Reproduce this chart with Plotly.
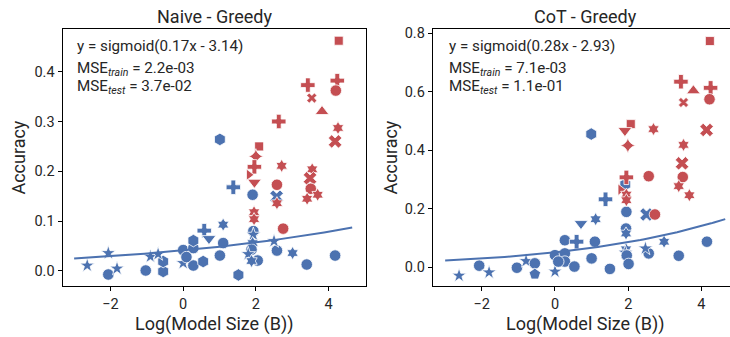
import numpy as np
import plotly.graph_objects as go

# ---------------- data ----------------
# Naive - Greedy (left)
naive_train_x = [-2.64, -2.06, -1.82, -2.06, -1.03, -0.55, -0.55, -0.90, -0.69, 0.00, 0.28, 0.28, 0.00, 0.28, 0.09,
                 0.55, 0.58, 0.71, 1.01, 1.10, 1.10, 1.01, 1.38, 1.52, 1.91, 1.93, 1.93, 1.91, 1.88, 1.79, 2.05, 1.88,
                 2.58, 2.50, 3.01, 3.40, 4.18, 2.57]
naive_train_y = [0.011, -0.007, 0.005, 0.036, 0.001, -0.001, 0.019, 0.029, 0.034, 0.042, 0.046, 0.061, 0.016, 0.011,
                 0.028, 0.019, 0.081, 0.065, 0.031, 0.056, 0.093, 0.264, 0.168, -0.008, 0.153, 0.080, 0.073, 0.056,
                 0.043, 0.034, 0.021, 0.020, 0.041, 0.060, 0.036, 0.013, 0.031, 0.149]
naive_train_fam = ['*', 'o', '*', '*', 'o', 'h', 'h', '*', '*', 'o', 'o', 'h', '*', 'o', 'o',
                   'h', 'P', 'v', 'o', 'o', '8', 'h', 'P', 'h', 'o', 'o', '*', '8', 'o', '*', 'o', '8',
                   'o', '*', '8', 'o', 'o', 'X']

naive_test_x = [4.28, 3.43, 4.24, 4.20, 3.54, 3.82, 2.63, 4.26, 4.18, 2.09, 2.00, 1.96, 2.71, 1.81, 1.96, 2.58,
                3.55, 3.49, 3.51, 3.70, 3.41, 2.58, 1.95, 1.95, 2.75]
naive_test_y = [0.462, 0.373, 0.382, 0.362, 0.347, 0.320, 0.300, 0.287, 0.260, 0.250, 0.230, 0.209, 0.211, 0.193,
                0.178, 0.173, 0.204, 0.186, 0.165, 0.153, 0.145, 0.136, 0.118, 0.104, 0.085]
naive_test_fam = ['s', 'P', 'P', 'o', 'x', '^', 'P', '8', 'X', 's', 'd', 'P', '8', '>', 'v', 'o',
                  '8', 'X', 'o', '8', '8', '8', '8', '8', 'o']

# CoT - Greedy (right)
cot_train_x = [-2.62, -2.07, -1.80, -1.04, -0.79, -0.55, -0.55, 0.00, 0.27, 0.27, 0.00, 0.27, 0.09, 0.53, 0.59,
               0.71, 1.00, 1.09, 1.11, 0.99, 1.38, 1.50, 1.95, 1.92, 1.94, 1.94, 1.94, 1.92, 1.96, 2.01, 2.56,
               2.47, 2.98, 3.38, 4.15, 2.50]
cot_train_y = [-0.029, 0.005, -0.018, -0.002, 0.021, 0.013, -0.024, 0.041, 0.047, 0.092, -0.015, 0.019, 0.019,
               0.002, 0.087, 0.149, 0.030, 0.087, 0.164, 0.455, 0.232, -0.006, 0.189, 0.283, 0.132, 0.115, 0.061,
               0.050, 0.040, 0.011, 0.047, 0.064, 0.087, 0.039, 0.087, 0.180]
cot_train_fam = ['*', 'o', '*', 'o', '*', 'o', 'p', 'o', 'o', 'o', '*', 'o', 'o', 'o', 'P',
                 'v', 'o', 'o', '8', 'h', 'P', 'o', 'o', 'h', 'o', '8', '8', '*', 'o', 'o', 'o',
                 '*', '8', 'o', 'o', 'X']

cot_test_x = [4.23, 3.44, 3.78, 4.25, 4.22, 3.51, 4.14, 2.07, 1.91, 2.69, 1.99, 3.51, 3.47, 1.95, 2.56, 3.49,
              3.38, 3.67, 1.79, 1.95, 1.95, 2.73]
cot_test_y = [0.773, 0.634, 0.603, 0.613, 0.574, 0.563, 0.469, 0.489, 0.467, 0.472, 0.416, 0.418, 0.355, 0.307,
              0.311, 0.308, 0.277, 0.246, 0.265, 0.248, 0.229, 0.180]
cot_test_fam = ['s', 'P', '^', 'P', 'o', 'x', 'X', 's', 'v', '8', 'd', '8', 'X', 'P', 'o', 'o',
                '8', '8', '>', '8', '8', 'o']

# fitted sigmoid coefficients (a, b): y = sigmoid(a x - b)
naive_fit = (0.17, 3.14)
cot_fit = (0.28, 2.93)
fit_x_range = (-3.0, 4.65)

titles = ["Naive - Greedy", "CoT - Greedy"]
naive_text = ["y = sigmoid(0.17x - 3.14)", "2.2e-03", "3.7e-02"]
cot_text = ["y = sigmoid(0.28x - 2.93)", "7.1e-03", "1.1e-01"]
x_ticks = [-2, 0, 2, 4]
naive_y_ticks = [0.0, 0.1, 0.2, 0.3, 0.4]
cot_y_ticks = [0.0, 0.2, 0.4, 0.6, 0.8]

# ---------------- styling ----------------
W, H = 730, 337
BLUE = '#4C72B0'
RED = '#C44E52'
TXT = '#262626'
FONT = 'Roboto'
SYM = {'o': ('circle', 11.5), 'h': ('hexagon', 12.5), '*': ('star', 11), 'P': ('cross', 12),
       'X': ('x', 12), 'x': ('x', 9), '^': ('triangle-up', 12), 'v': ('triangle-down', 12),
       '>': ('triangle-right', 10), 's': ('square', 9), 'd': ('star-diamond', 11),
       'p': ('pentagon', 12), '8': ('hexagram', 10)}


def px(x):
    return x / W


def py(y):
    return 1 - y / H


def sigmoid(z):
    return 1 / (1 + np.exp(-z))


fig = go.Figure()


def add_points(xs, ys, fams, color, xa, ya):
    fig.add_trace(go.Scatter(
        x=xs, y=ys, mode='markers', xaxis=xa, yaxis=ya, showlegend=False,
        marker=dict(color=color, opacity=1, symbol=[SYM[f][0] for f in fams],
                    size=[SYM[f][1] for f in fams], line=dict(color='white', width=0.8))))


def add_fit(coef, xa, ya):
    xs = np.linspace(fit_x_range[0], fit_x_range[1], 100)
    fig.add_trace(go.Scatter(x=xs, y=sigmoid(coef[0] * xs - coef[1]), mode='lines', xaxis=xa, yaxis=ya,
                             showlegend=False, line=dict(color=BLUE, width=2)))


add_points(naive_train_x, naive_train_y, naive_train_fam, BLUE, 'x', 'y')
add_points(naive_test_x, naive_test_y, naive_test_fam, RED, 'x', 'y')
add_fit(naive_fit, 'x', 'y')
add_points(cot_train_x, cot_train_y, cot_train_fam, BLUE, 'x2', 'y2')
add_points(cot_test_x, cot_test_y, cot_test_fam, RED, 'x2', 'y2')
add_fit(cot_fit, 'x2', 'y2')

top, bottom = 26, 286
L1, R1 = 62.5, 366
L2 = 432.7
ydom = [py(bottom), py(top)]

axis_common = dict(showgrid=False, zeroline=False, showline=True, linecolor='black', linewidth=1,
                   ticks='outside', ticklen=4, tickwidth=1, tickcolor='black',
                   tickfont=dict(family=FONT, size=14.5, color=TXT))

fig.update_layout(
    width=W, height=H, margin=dict(l=0, r=0, t=0, b=0),
    paper_bgcolor='white', plot_bgcolor='white',
    font=dict(family=FONT, color=TXT),
    xaxis=dict(domain=[px(L1), px(R1)], range=[-3.32, 5.03], tickvals=x_ticks, mirror=True,
               anchor='y', **axis_common),
    yaxis=dict(domain=ydom, range=[-0.031, 0.486], tickvals=naive_y_ticks, tickformat='.1f',
               mirror=True, anchor='x', **axis_common),
    xaxis2=dict(domain=[px(L2), 1.0], range=[-3.34, 4.78], tickvals=x_ticks, mirror=True,
                anchor='y2', **axis_common),
    yaxis2=dict(domain=ydom, range=[-0.066, 0.815], tickvals=cot_y_ticks, tickformat='.1f',
                mirror=False, anchor='x2', **axis_common),
)

ann = []


def text(x, y, s, size, xanchor='center', angle=0):
    ann.append(dict(x=px(x), y=py(y), xref='paper', yref='paper', text=s, showarrow=False,
                    xanchor=xanchor, yanchor='middle', textangle=angle,
                    font=dict(family=FONT, size=size, color=TXT)))


# titles
text((L1 + R1) / 2, 14, titles[0], 18)
text((L2 + 739) / 2, 14, titles[1], 18)
# axis labels
text((L1 + R1) / 2, 324, "Log(Model Size (B))", 18)
text((L2 + 739) / 2, 324, "Log(Model Size (B))", 18)
text(19, (top + bottom) / 2, "Accuracy", 18, angle=-90)
text(391, (top + bottom) / 2, "Accuracy", 18, angle=-90)
# fit text
for x0, t in ((75, naive_text), (447, cot_text)):
    text(x0, 43, t[0], 15.2, 'left')
    text(x0, 67, "MSE<sub><i>train</i></sub> = " + t[1], 15.2, 'left')
    text(x0, 85, "MSE<sub><i>test</i></sub> = " + t[2], 15.2, 'left')

fig.update_layout(annotations=ann)
fig.write_html("out.html")
